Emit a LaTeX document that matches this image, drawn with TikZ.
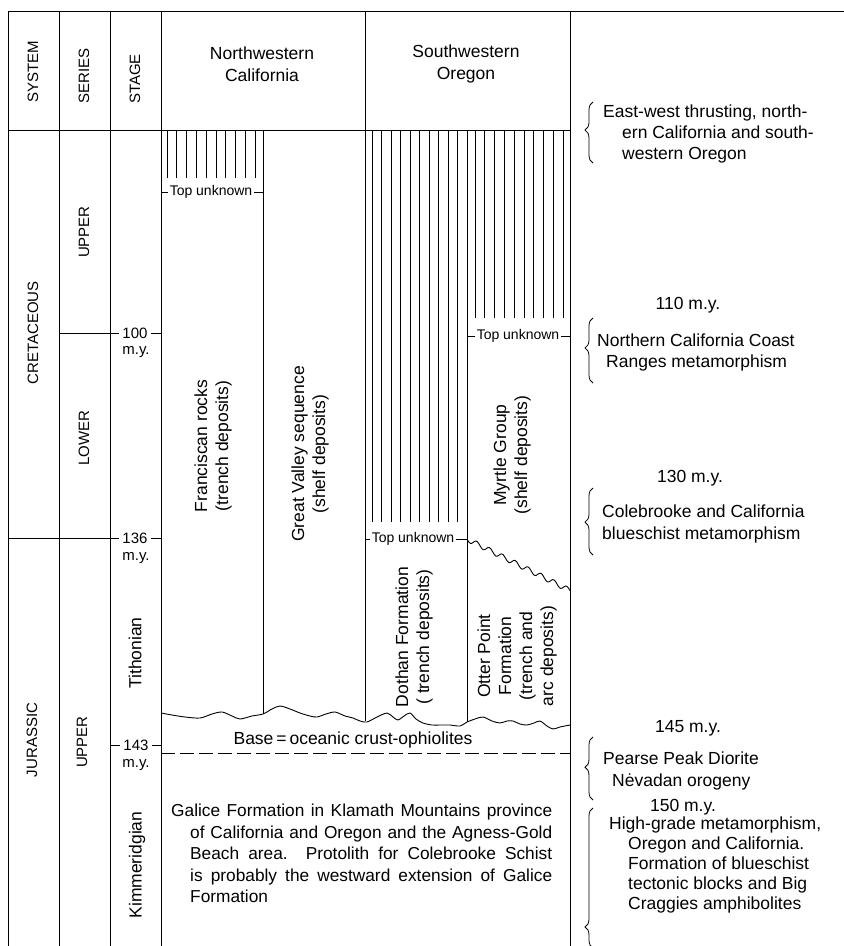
\documentclass[tikz,border=0pt]{standalone}
\usepackage{fontspec}
\setmainfont{Liberation Sans}
\usetikzlibrary{decorations.pathreplacing}
\newcommand{\fsz}[2]{\fontsize{#1}{#2}\selectfont}
\begin{document}
\begin{tikzpicture}[x=1pt,y=-1pt,
  frame/.style={line width=1pt},
  hatch/.style={line width=0.7pt},
  capslbl/.style={font=\fsz{15}{18}, rotate=90, inner sep=1pt},
  stagelbl/.style={font=\fsz{17.5}{21}, rotate=90, inner sep=1pt},
  rotbody/.style={font=\fsz{17.5}{21}, rotate=90, align=center, inner sep=1pt},
  headtxt/.style={font=\fsz{17.5}{22}, align=center, inner sep=1pt},
  tulbl/.style={font=\fsz{14}{16}, inner sep=1.5pt},
  numlbl/.style={font=\fsz{15}{17}, inner sep=3.5pt},
  mylbl/.style={font=\fsz{15}{17}, inner sep=1pt},
  sidetxt/.style={font=\fsz{17.5}{21}, align=left, inner sep=0pt, anchor=north west},
  agetxt/.style={font=\fsz{17.5}{21}, inner sep=1pt},
  brc/.style={decorate, decoration={brace, amplitude=8pt, aspect=#1}, line width=0.8pt},
]
\useasboundingbox (0,0) rectangle (844,946);
\clip (0,0) rectangle (844,946);
\fill[white] (0,0) rectangle (844,946);

% ---------- frame ----------
\draw[frame] (8,11) -- (844,11);
\draw[frame] (8,11) -- (8,946);
\draw[frame] (59,11) -- (59,946);
\draw[frame] (110,11) -- (110,946);
\draw[frame] (161,11) -- (161,946);
\draw[frame] (570,11) -- (570,946);
\draw[frame] (8,130) -- (570,130);
\draw[frame] (365,11) -- (365,721);
\draw[frame] (263,130) -- (263,714);
\draw[frame] (467,130) -- (467,722);

% ---------- header ----------
\node[capslbl] (hsystem) at (33,72) {SYSTEM};
\node[capslbl] (hseries) at (84,76) {SERIES};
\node[capslbl] (hstage) at (135,79) {STAGE};
\node[headtxt] (hnwc) at (262,64) {Northwestern\\California};
\node[headtxt] (hswo) at (466,64) {Southwestern\\Oregon};

% ---------- system / series / stage ----------
\node[capslbl] (cret) at (33,333) {CRETACEOUS};
\node[capslbl] (jur) at (32,740) {JURASSIC};
\node[capslbl] (upc) at (84,232) {UPPER};
\node[capslbl] (lowc) at (84,438) {LOWER};
\node[capslbl] (upj) at (82,742) {UPPER};
\node[stagelbl] (tith) at (135,653) {Tithonian};
\node[stagelbl] (kimm) at (137,865) {Kimmeridgian};

% ---------- ages ----------
\node[numlbl] (n100) at (135,333) {100};
\node[mylbl] (my100) at (136,352) {m.y.};
\draw[frame] (59,333) -- (n100.west);
\draw[frame] (n100.east) -- (161,333);
\node[numlbl] (n136) at (135,538) {136};
\node[mylbl] (my136) at (136,558) {m.y.};
\draw[frame] (8,538) -- (n136.west);
\draw[frame] (n136.east) -- (161,538);
\node[numlbl] (n143) at (136,745) {143};
\node[mylbl] (my143) at (136,765) {m.y.};
\draw[frame] (110,745) -- (n143.west);
\draw[frame] (n143.east) -- (161,745);

% ---------- hatching ----------
\foreach \i in {0,...,9} {
  \draw[hatch] ({167+9.8*\i},130) -- ({167+9.8*\i},178);
  \draw[hatch] ({372+9.5*\i},130) -- ({372+9.5*\i},522);
  \draw[hatch] ({475+9.8*\i},130) -- ({475+9.8*\i},318);
}

% ---------- top unknown ----------
\node[tulbl] (tu1) at (211,192) {Top unknown};
\draw[frame] (161,192) -- (tu1.west);
\draw[frame] (tu1.east) -- (263,192);
\node[tulbl] (tu2) at (518,336) {Top unknown};
\draw[frame] (467,336) -- (tu2.west);
\draw[frame] (tu2.east) -- (570,336);
\node[tulbl] (tu3) at (413,539) {Top unknown};
\draw[frame] (365,539) -- (tu3.west);
\draw[frame] (tu3.east) -- (467,539);

% ---------- unconformities ----------
\draw[line width=0.9pt] plot[smooth, domain=0:103, samples=90]
  ({467+\x}, {539+0.5*\x+2.6*sin(28*\x)});
\draw[line width=0.9pt] plot[smooth] coordinates {
 (161,713) (172,715) (185,717) (200,718) (212,714) (222,712) (232,716)
 (240,719) (252,716) (263,714) (272,709) (280,706) (290,709) (300,713)
 (310,716) (317,717) (326,714) (335,712) (345,716) (353,718) (360,721)
 (367,722) (377,717) (387,713) (393,717) (398,720) (404,716) (410,713)
 (416,719) (423,723) (432,725) (440,725) (450,725) (460,726) (467,722)
 (475,719) (483,717) (492,721) (500,723) (507,721) (513,721) (520,724)
 (527,725) (534,723) (540,721) (547,726) (553,729) (560,727) (570,725)};
\draw[frame, dash pattern=on 14pt off 5pt] (161,753) -- (570,753);

% ---------- unit labels ----------
\node[rotbody] (fran) at (213,446) {Franciscan rocks\\(trench deposits)};
\node[rotbody] (gv) at (310,454) {Great Valley sequence\\(shelf deposits)};
\node[rotbody] (myr) at (512,455) {Myrtle Group\\(shelf deposits)};
\node[rotbody] (doth) at (414,637) {Dothan Formation\\( trench deposits)};
\node[rotbody] (otter) at (517,656) {Otter Point\\Formation\\(trench and\\arc deposits)};
\node[font=\fsz{17.5}{21}, inner sep=1pt] (base) at (353,740) {Base\,=\,oceanic crust-ophiolites};
\node[font=\fsz{17.3}{21.5}, text width=381pt, align=justify, inner sep=0pt, anchor=north west] (galice) at (171,804)
 {Galice Formation in Klamath Mountains province\linebreak
  \hspace*{19pt}of California and Oregon and the Agness-Gold\linebreak
  \hspace*{19pt}Beach area.\ \ Protolith for Colebrooke Schist\linebreak
  \hspace*{19pt}is probably the westward extension of Galice\linebreak
  \hspace*{19pt}Formation};

% ---------- events ----------
\draw[brc=0.54] (593,163) -- (593,102);
\node[sidetxt] (ev1) at (603,105) {East-west thrusting, north-\\\hspace*{19pt}ern California and south-\\\hspace*{19pt}western Oregon};
\node[agetxt] (a110) at (688,305) {110 m.y.};
\draw[brc=0.54] (593,383) -- (593,318);
\node[sidetxt] (ev2) at (597,334) {Northern California Coast\\\hspace*{9pt}Ranges metamorphism};
\node[agetxt] (a130) at (690,478) {130 m.y.};
\draw[brc=0.49] (593,555) -- (593,488);
\node[sidetxt, font=\fsz{17.5}{22}] (ev3) at (602,505) {Colebrooke and California\\blueschist metamorphism};
\node[agetxt] (a145) at (688,728) {145 m.y.};
\draw[brc=0.52] (593,800) -- (593,737);
\node[sidetxt, font=\fsz{17.5}{22}] (ev4) at (603,752) {Pearse Peak Diorite\\\hspace*{9pt}Nėvadan orogeny};
\node[agetxt] (a150) at (683,807) {150 m.y.};
\draw[brc=0.15] (593,948) -- (593,808);
\node[sidetxt, font=\fsz{17.5}{20}] (ev5) at (609,817) {High-grade metamorphism,\\\hspace*{19pt}Oregon and California.\\\hspace*{19pt}Formation of blueschist\\\hspace*{19pt}tectonic blocks and Big\\\hspace*{19pt}Craggies amphibolites};
\end{tikzpicture}
\end{document}
